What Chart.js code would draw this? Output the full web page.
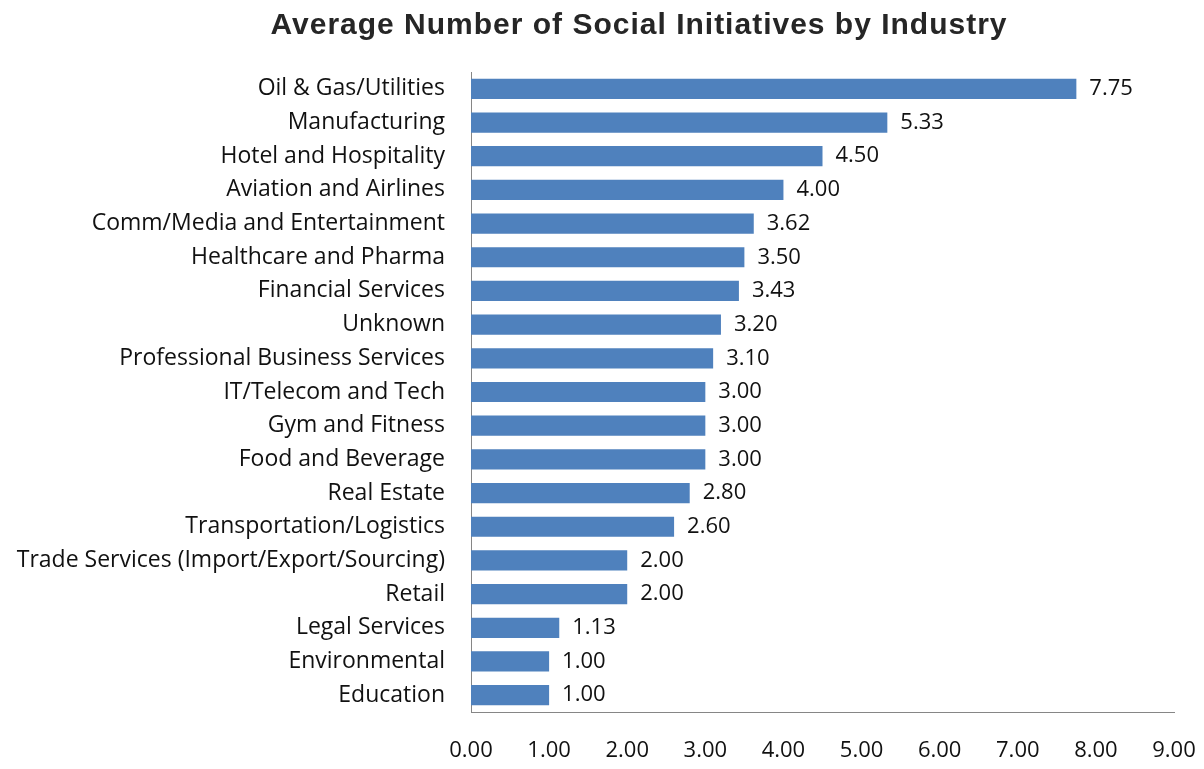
<!DOCTYPE html>
<html>
<head>
<meta charset="utf-8">
<script src="https://cdn.jsdelivr.net/npm/chart.js@4"></script>
<style>
  html, body { margin: 0; padding: 0; background: #fff; }
  #wrap { width: 1204px; height: 769px; }
</style>
</head>
<body>
<div id="wrap"><canvas id="chart" width="1204" height="769"></canvas></div>
<script>
const chartTitle = 'Average Number of Social Initiatives by Industry';
const industries = ['Oil & Gas/Utilities', 'Manufacturing', 'Hotel and Hospitality', 'Aviation and Airlines',
  'Comm/Media and Entertainment', 'Healthcare and Pharma', 'Financial Services', 'Unknown',
  'Professional Business Services', 'IT/Telecom and Tech', 'Gym and Fitness', 'Food and Beverage',
  'Real Estate', 'Transportation/Logistics', 'Trade Services (Import/Export/Sourcing)', 'Retail',
  'Legal Services', 'Environmental', 'Education'];
const averages = [7.75, 5.33, 4.50, 4.00, 3.62, 3.50, 3.43, 3.20, 3.10, 3.00, 3.00, 3.00, 2.80, 2.60, 2.00, 2.00, 1.13, 1.00, 1.00];
const xTicks = [0, 1, 2, 3, 4, 5, 6, 7, 8, 9];

const labelFont = '"Open Sans", sans-serif';
const titleFont = '"Liberation Sans", Arial, sans-serif';

// wide bold heading above the plot
const heading = {
  id: 'heading',
  afterDraw(chart) {
    const { ctx } = chart;
    ctx.save();
    ctx.font = 'bold 30px ' + titleFont;
    ctx.letterSpacing = '1px';
    ctx.fillStyle = '#262626';
    ctx.textAlign = 'center';
    ctx.textBaseline = 'middle';
    ctx.fillText(chartTitle, 639, 26);
    ctx.restore();
  }
};

// writes the value next to the end of each bar
const valueLabels = {
  id: 'valueLabels',
  afterDatasetsDraw(chart) {
    const { ctx } = chart;
    const meta = chart.getDatasetMeta(0);
    ctx.save();
    ctx.font = '22px ' + labelFont;
    ctx.fillStyle = '#111';
    ctx.textAlign = 'left';
    ctx.textBaseline = 'middle';
    meta.data.forEach((bar, i) => {
      ctx.fillText(averages[i].toFixed(2), bar.x + 13, bar.y);
    });
    ctx.restore();
  }
};

const ctx = document.getElementById('chart').getContext('2d');
new Chart(ctx, {
  type: 'bar',
  data: {
    labels: industries,
    datasets: [{
      data: averages,
      backgroundColor: '#4f81bd',
      barPercentage: 0.6,
      categoryPercentage: 1.0
    }]
  },
  options: {
    indexAxis: 'y',
    responsive: false,
    animation: false,
    layout: { padding: { top: 72, right: 0, bottom: 0, left: 0 } },
    plugins: {
      legend: { display: false },
      tooltip: { enabled: false },
      title: { display: false }
    },
    scales: {
      x: {
        min: 0,
        max: 9,
        afterBuildTicks(scale) {
          scale.ticks = xTicks.map(v => ({ value: v }));
        },
        afterFit(scale) {
          scale.height = 57;
          scale.paddingLeft = 0;
          scale.paddingRight = 30;
        },
        grid: { display: false, drawTicks: false },
        border: { display: true, color: '#868686', width: 1 },
        ticks: {
          padding: 26,
          color: '#111',
          font: { family: labelFont, size: 22 },
          callback: v => Number(v).toFixed(2)
        }
      },
      y: {
        afterFit(scale) { scale.width = 471; },
        grid: { display: false, drawTicks: false },
        border: { display: true, color: '#868686', width: 1 },
        ticks: {
          padding: 26,
          color: '#111',
          autoSkip: false,
          font: { family: labelFont, size: 23 }
        }
      }
    }
  },
  plugins: [valueLabels, heading]
});
</script>
</body>
</html>
